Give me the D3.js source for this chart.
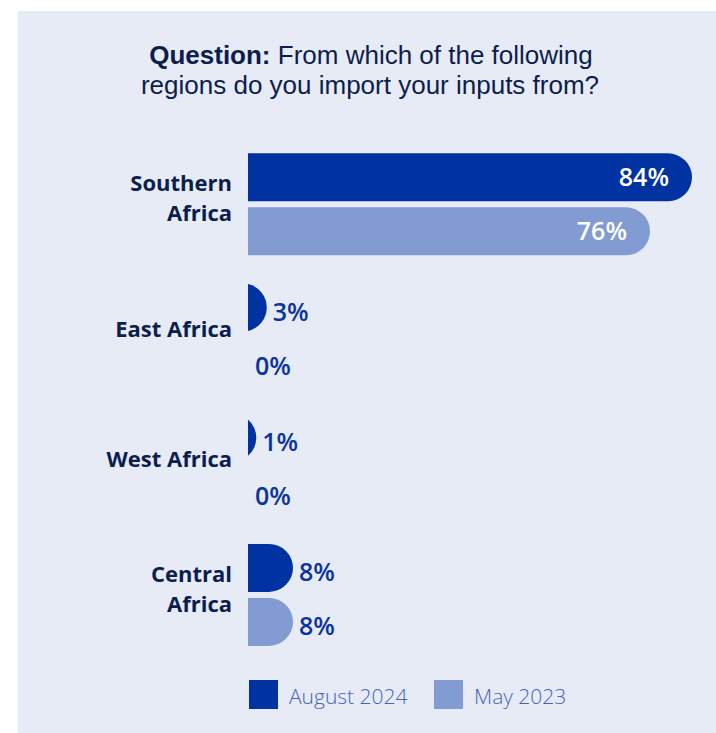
<!DOCTYPE html>
<html>
<head>
<meta charset="utf-8">
<script src="https://cdn.jsdelivr.net/npm/d3@7/dist/d3.min.js"></script>
<style>
  html, body { margin: 0; padding: 0; background: #ffffff; }
  svg { display: block; }
</style>
</head>
<body>
<svg id="chart" width="716" height="733"></svg>
<script>
// Survey responses: share of respondents importing inputs from each region
const categories = ["Southern Africa", "East Africa", "West Africa", "Central Africa"];
const categoryLabelLines = [["Southern", "Africa"], ["East Africa"], ["West Africa"], ["Central", "Africa"]];
const seriesNames = ["August 2024", "May 2023"];
const august2024 = [84, 3, 1, 8];
const may2023 = [76, 0, 0, 8];
const seriesValues = [august2024, may2023];
const titleBold = "Question:";
const titleLine1 = " From which of the following";
const titleLine2 = "regions do you import your inputs from?";

const W = 716, H = 733;
const colors = ["#0033a1", "#829bd2"];
const bg = "#e7ebf5";
const navy = "#0c1e4e";
const valueBlue = "#0b34a0";
const legendBlue = "#4565bd";

const svg = d3.select("#chart");

// panel background
svg.append("rect")
  .attr("x", 18).attr("y", 11)
  .attr("width", W - 18).attr("height", H - 11)
  .attr("fill", bg);

// two-line title
const titleG = svg.append("g")
  .attr("font-family", "'Liberation Sans', Arial, sans-serif")
  .attr("fill", navy)
  .attr("font-size", 26)
  .attr("text-anchor", "middle");
const l1 = titleG.append("text").attr("x", 371).attr("y", 64);
l1.append("tspan").attr("font-weight", 700).text(titleBold);
l1.append("tspan").attr("font-weight", 400).text(titleLine1);
titleG.append("text").attr("x", 370).attr("y", 94).attr("font-weight", 400).text(titleLine2);

// scales
const x0 = 248;
const x = d3.scaleLinear().domain([0, 100]).range([3, 528]);
const yGroup = d3.scaleBand().domain(categories).range([153.3, 153.3 + 4 * 130.2]).paddingInner(0).paddingOuter(0);
const ySeries = d3.scaleBand().domain(seriesNames).range([0, 102]).paddingInner(6 / 54).paddingOuter(0);
const bh = ySeries.bandwidth();
const r = bh / 2;

// bar with a flat start and a rounded end of radius r
function barPath(w, top) {
  const cy = top + r;
  if (w <= 0) return null;
  if (w >= r) {
    const xe = x0 + w - r;
    return `M${x0},${top}H${xe}A${r},${r} 0 0 1 ${xe},${top + bh}H${x0}Z`;
  }
  const dy = Math.sqrt(r * r - (r - w) * (r - w));
  return `M${x0},${cy - dy}A${r},${r} 0 0 1 ${x0},${cy + dy}Z`;
}

const rows = [];
categories.forEach((c, i) => {
  seriesNames.forEach((s, j) => {
    rows.push({ cat: c, series: s, si: j, value: seriesValues[j][i] });
  });
});

const barsG = svg.append("g");
rows.forEach(d => {
  const top = yGroup(d.cat) + ySeries(d.series);
  const w = d.value > 0 ? x(d.value) : 0;
  const p = barPath(w, top);
  if (p) barsG.append("path").attr("d", p).attr("fill", colors[d.si]);
  const cy = top + r;
  const lbl = barsG.append("text")
    .attr("font-family", "'Open Sans', 'Noto Sans', sans-serif")
    .attr("font-size", 25)
    .attr("font-weight", 600)
    .text(d.value + "%");
  if (w > 100) {
    lbl.attr("x", x0 + w - 23).attr("y", cy + 9)
      .attr("text-anchor", "end").attr("fill", "#ffffff");
  } else {
    lbl.attr("x", x0 + (w > 0 ? w + 6 : 7)).attr("y", cy + 13)
      .attr("text-anchor", "start").attr("fill", valueBlue);
  }
});

// category labels
const catG = svg.append("g")
  .attr("font-family", "'Open Sans', 'Noto Sans', sans-serif")
  .attr("font-size", 22)
  .attr("font-weight", 700)
  .attr("fill", navy)
  .attr("text-anchor", "end");
categories.forEach((c, i) => {
  const lines = categoryLabelLines[i];
  const center = yGroup(c) + r + 21;
  const lh = 30;
  const t = catG.append("text").attr("x", 232);
  lines.forEach((ln, k) => {
    t.append("tspan")
      .attr("x", 232)
      .attr("y", center + 8 + (k - (lines.length - 1) / 2) * lh)
      .text(ln);
  });
});

// legend
const legend = svg.append("g")
  .attr("font-family", "'Open Sans', 'Noto Sans', sans-serif")
  .attr("font-size", 21)
  .attr("font-weight", 300)
  .attr("fill", legendBlue);
seriesNames.forEach((s, j) => {
  const lx = 249 + j * 185;
  legend.append("rect").attr("x", lx).attr("y", 680).attr("width", 29).attr("height", 29).attr("fill", colors[j]);
  legend.append("text").attr("x", lx + 40).attr("y", 704).text(s);
});
</script>
</body>
</html>
